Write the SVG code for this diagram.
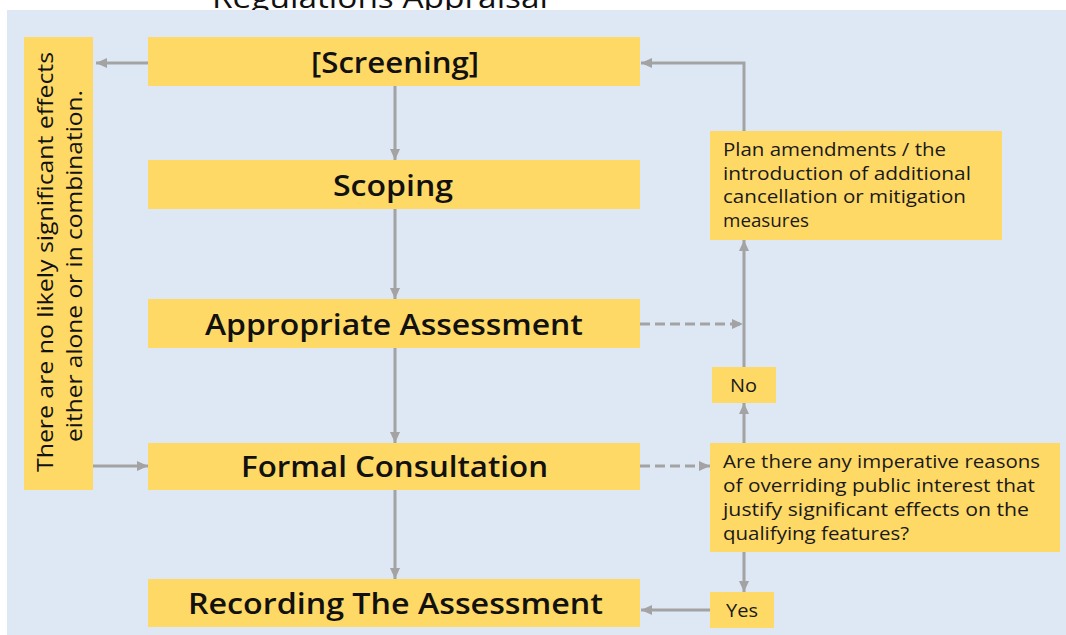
<svg xmlns="http://www.w3.org/2000/svg" width="1066" height="635" viewBox="0 0 1066 635">
  <style>
    .box { fill: #ffd966; }
    .main { font-family: "Open Sans", "Liberation Sans", sans-serif; font-size: 28px; font-weight: 600; fill: #111; text-anchor: middle; }
    .small { font-family: "Open Sans", "Liberation Sans", sans-serif; font-size: 18px; fill: #1a1a1a; }
    .side { font-family: "Open Sans", "Liberation Sans", sans-serif; font-size: 21px; fill: #111; text-anchor: middle; }
    .title { font-family: "Open Sans", "Liberation Sans", sans-serif; font-size: 30px; fill: #111; text-anchor: middle; }
    .conn { fill: none; stroke: #a3a3a3; stroke-width: 3; }
    .dash { stroke-dasharray: 10 5; }
  </style>
  <defs>
    <marker id="arrow" markerUnits="userSpaceOnUse" markerWidth="12" markerHeight="11" refX="11" refY="5.5" orient="auto">
      <path d="M0,0.5 L11,5.5 L0,10.5 z" fill="#a3a3a3"/>
    </marker>
  </defs>

  <rect width="1066" height="635" fill="#ffffff"/>
  <text class="title" x="380" y="8" textLength="336" lengthAdjust="spacingAndGlyphs">Regulations Appraisal</text>
  <rect x="7" y="10" width="1059" height="625" fill="#dde8f4"/>

  <g id="connectors">
    <line class="conn" x1="148" y1="63" x2="96" y2="63" marker-end="url(#arrow)"/>
    <line class="conn" x1="395" y1="86" x2="395" y2="160" marker-end="url(#arrow)"/>
    <line class="conn" x1="395" y1="209" x2="395" y2="299" marker-end="url(#arrow)"/>
    <line class="conn" x1="395" y1="348" x2="395" y2="443" marker-end="url(#arrow)"/>
    <line class="conn" x1="395" y1="490" x2="395" y2="579" marker-end="url(#arrow)"/>
    <line class="conn" x1="93" y1="466" x2="148" y2="466" marker-end="url(#arrow)"/>
    <line class="conn dash" x1="640" y1="324" x2="743" y2="324" marker-end="url(#arrow)"/>
    <line class="conn dash" x1="640" y1="466" x2="710" y2="466" marker-end="url(#arrow)"/>
    <line class="conn" x1="744" y1="443" x2="744" y2="403" marker-end="url(#arrow)"/>
    <line class="conn" x1="744" y1="367" x2="744" y2="240" marker-end="url(#arrow)"/>
    <polyline class="conn" points="744,131 744,63 641,63" marker-end="url(#arrow)"/>
    <line class="conn" x1="744" y1="552" x2="744" y2="592" marker-end="url(#arrow)"/>
    <line class="conn" x1="710" y1="610" x2="641" y2="610" marker-end="url(#arrow)"/>
  </g>

  <g id="no-effects">
    <rect class="box" x="24" y="37" width="69" height="453"/>
    <text class="side" transform="translate(53,262) rotate(-90)" textLength="420" lengthAdjust="spacingAndGlyphs">There are no likely significant effects</text>
    <text class="side" transform="translate(82,266) rotate(-90)" textLength="352" lengthAdjust="spacingAndGlyphs">either alone or in combination.</text>
  </g>

  <g id="screening">
    <rect class="box" x="148" y="37" width="492" height="49"/>
    <text class="main" x="395" y="73" textLength="168" lengthAdjust="spacingAndGlyphs">[Screening]</text>
  </g>

  <g id="scoping">
    <rect class="box" x="148" y="160" width="492" height="49"/>
    <text class="main" x="393" y="196" textLength="120" lengthAdjust="spacingAndGlyphs">Scoping</text>
  </g>

  <g id="appropriate-assessment">
    <rect class="box" x="148" y="299" width="492" height="49"/>
    <text class="main" x="394" y="335" textLength="378" lengthAdjust="spacingAndGlyphs">Appropriate Assessment</text>
  </g>

  <g id="formal-consultation">
    <rect class="box" x="148" y="443" width="492" height="47"/>
    <text class="main" x="394.5" y="477" textLength="307" lengthAdjust="spacingAndGlyphs">Formal Consultation</text>
  </g>

  <g id="recording">
    <rect class="box" x="148" y="579" width="492" height="48"/>
    <text class="main" x="395.5" y="614" textLength="415" lengthAdjust="spacingAndGlyphs">Recording The Assessment</text>
  </g>

  <g id="plan-amendments">
    <rect class="box" x="710" y="131" width="292" height="109"/>
    <text class="small" x="723" y="156" textLength="223" lengthAdjust="spacingAndGlyphs">Plan amendments / the</text>
    <text class="small" x="723" y="180" textLength="248" lengthAdjust="spacingAndGlyphs">introduction of additional</text>
    <text class="small" x="723" y="203" textLength="243" lengthAdjust="spacingAndGlyphs">cancellation or mitigation</text>
    <text class="small" x="723" y="227" textLength="86" lengthAdjust="spacingAndGlyphs">measures</text>
  </g>

  <g id="no">
    <rect class="box" x="712" y="367" width="64" height="36"/>
    <text class="small" x="743.5" y="392" text-anchor="middle" textLength="27" lengthAdjust="spacingAndGlyphs">No</text>
  </g>

  <g id="question">
    <rect class="box" x="710" y="443" width="350" height="109"/>
    <text class="small" x="723" y="468" textLength="317" lengthAdjust="spacingAndGlyphs">Are there any imperative reasons</text>
    <text class="small" x="723" y="492" textLength="312" lengthAdjust="spacingAndGlyphs">of overriding public interest that</text>
    <text class="small" x="723" y="516" textLength="306" lengthAdjust="spacingAndGlyphs">justify significant effects on the</text>
    <text class="small" x="723" y="540" textLength="186" lengthAdjust="spacingAndGlyphs">qualifying features?</text>
  </g>

  <g id="yes">
    <rect class="box" x="710" y="592" width="64" height="36"/>
    <text class="small" x="742" y="617" text-anchor="middle" textLength="32" lengthAdjust="spacingAndGlyphs">Yes</text>
  </g>
</svg>
